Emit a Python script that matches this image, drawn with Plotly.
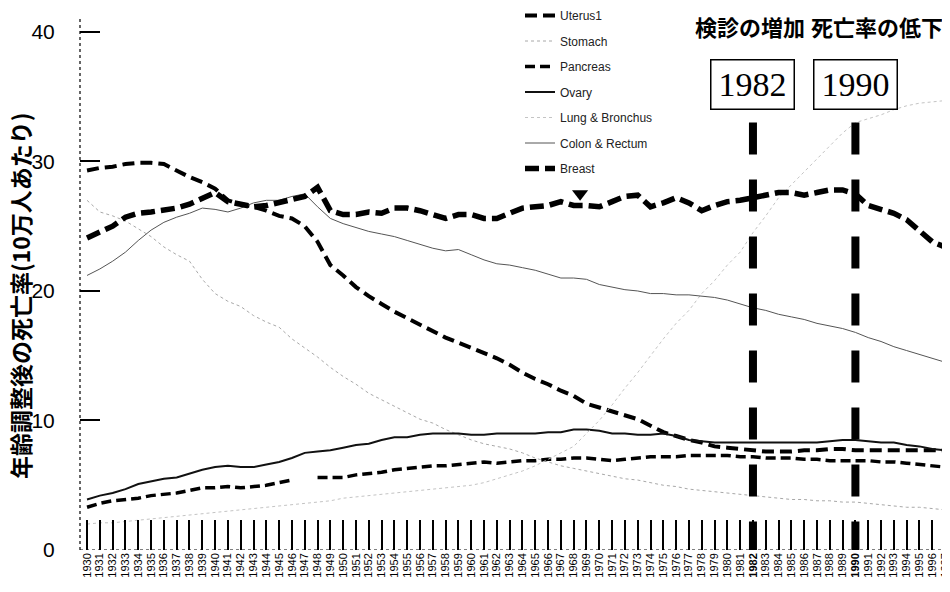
import plotly.graph_objects as go

# ---------------- data ----------------
years = list(range(1930, 1998))
tick_labels = [str(y) for y in years]
highlight_years = [1982, 1990]
header_left = "検診の増加"
header_right = "死亡率の低下"
y_title = "年齢調整後の死亡率(10万人あたり)"
y_ticks = [0, 10, 20, 30, 40]
y_tick_labels = ["0", "10", "20", "30", "40"]

uterus = [29.3, 29.5, 29.6, 29.8, 29.9, 29.9, 29.8, 29.3, 28.8, 28.4,
          27.9, 27.0, 26.7, 26.5, 26.2, 25.8, 25.6, 25.0, 23.8, 22.0,
          21.2, 20.3, 19.6, 19.0, 18.4, 17.9, 17.4, 16.9, 16.4, 16.0,
          15.6, 15.2, 14.8, 14.3, 13.7, 13.2, 12.8, 12.3, 11.9, 11.3,
          11.0, 10.7, 10.4, 10.1, 9.6, 9.1, 8.8, 8.5, 8.3, 8.0,
          7.9, 7.8, 7.7, 7.6, 7.6, 7.6, 7.7, 7.7, 7.8, 7.8,
          7.7, 7.7, 7.7, 7.7, 7.7, 7.7, 7.7, 7.7]
stomach = [27.0, 26.1, 25.8, 25.4, 24.8, 24.2, 23.4, 22.8, 22.3, 20.9,
           19.8, 19.2, 18.8, 18.1, 17.6, 17.2, 16.3, 15.6, 14.9, 14.1,
           13.4, 12.8, 12.1, 11.6, 11.1, 10.6, 10.1, 9.8, 9.3, 8.9,
           8.5, 8.2, 8.0, 7.8, 7.5, 7.1, 6.8, 6.5, 6.3, 6.1,
           5.9, 5.7, 5.5, 5.4, 5.2, 5.0, 4.9, 4.7, 4.6, 4.5,
           4.4, 4.3, 4.2, 4.1, 4.0, 3.9, 3.9, 3.8, 3.8, 3.7,
           3.7, 3.6, 3.5, 3.4, 3.3, 3.3, 3.2, 3.1]
pancreas = [3.3, 3.6, 3.8, 3.9, 4.0, 4.2, 4.3, 4.4, 4.6, 4.8,
            4.8, 4.9, 4.8, 4.9, 5.0, 5.2, 5.4, None, 5.6, 5.6,
            5.6, 5.8, 5.9, 6.0, 6.2, 6.3, 6.4, 6.5, 6.5, 6.6,
            6.7, 6.8, 6.7, 6.8, 6.9, 6.9, 7.0, 7.0, 7.1, 7.1,
            7.0, 6.9, 7.0, 7.1, 7.2, 7.2, 7.2, 7.3, 7.3, 7.3,
            7.3, 7.2, 7.2, 7.1, 7.1, 7.1, 7.0, 7.0, 6.9, 6.9,
            6.9, 6.9, 6.8, 6.8, 6.7, 6.6, 6.5, 6.4]
ovary = [3.9, 4.2, 4.4, 4.7, 5.1, 5.3, 5.5, 5.6, 5.9, 6.2,
         6.4, 6.5, 6.4, 6.4, 6.6, 6.8, 7.1, 7.5, 7.6, 7.7,
         7.9, 8.1, 8.2, 8.5, 8.7, 8.7, 8.9, 9.0, 9.0, 9.0,
         8.9, 8.9, 9.0, 9.0, 9.0, 9.0, 9.1, 9.1, 9.3, 9.3,
         9.2, 9.0, 9.0, 8.9, 8.9, 9.0, 8.8, 8.5, 8.4, 8.3,
         8.3, 8.3, 8.3, 8.3, 8.3, 8.3, 8.3, 8.3, 8.4, 8.5,
         8.5, 8.4, 8.3, 8.3, 8.1, 8.0, 7.8, 7.7]
lung = [2.0, 2.1, 2.1, 2.2, 2.3, 2.4, 2.5, 2.6, 2.7, 2.8,
        2.9, 3.0, 3.1, 3.2, 3.3, 3.4, 3.5, 3.6, 3.7, 3.8,
        4.0, 4.1, 4.2, 4.3, 4.4, 4.5, 4.6, 4.7, 4.8, 4.9,
        5.0, 5.2, 5.5, 5.8, 6.1, 6.5, 7.0, 7.5, 8.0, 9.0,
        10.0, 11.2, 12.5, 13.7, 15.0, 16.3, 17.5, 18.5, 19.8, 20.8,
        22.0, 23.0, 24.5, 25.8, 27.2, 28.2, 29.2, 30.2, 31.2, 32.2,
        33.0, 33.3, 33.6, 34.0, 34.3, 34.5, 34.6, 34.7]
colon = [21.2, 21.7, 22.3, 23.0, 23.9, 24.7, 25.3, 25.7, 26.0, 26.4,
         26.3, 26.1, 26.4, 26.8, 27.0, 27.0, 27.3, 27.5, 26.5, 25.6,
         25.2, 24.9, 24.6, 24.4, 24.2, 23.9, 23.6, 23.3, 23.1, 23.2,
         22.8, 22.4, 22.1, 22.0, 21.8, 21.6, 21.3, 21.0, 21.0, 20.9,
         20.5, 20.3, 20.1, 20.0, 19.8, 19.8, 19.7, 19.7, 19.6, 19.5,
         19.3, 19.0, 18.7, 18.5, 18.2, 18.0, 17.8, 17.5, 17.3, 17.1,
         16.8, 16.4, 16.1, 15.7, 15.4, 15.1, 14.8, 14.5]
breast = [24.1, 24.5, 25.0, 25.7, 26.0, 26.1, 26.2, 26.4, 26.7, 27.1,
          27.6, 26.9, 26.7, 26.5, 26.6, 26.8, 27.0, 27.3, 28.0, 26.2,
          25.9, 25.9, 26.1, 26.0, 26.4, 26.4, 26.2, 25.9, 25.6, 25.9,
          25.9, 25.6, 25.6, 26.0, 26.4, 26.5, 26.6, 26.9, 26.6, 26.6,
          26.5, 26.9, 27.3, 27.4, 26.5, 26.8, 27.2, 26.8, 26.2, 26.6,
          26.9, 27.0, 27.2, 27.4, 27.6, 27.6, 27.4, 27.6, 27.8, 27.8,
          27.5, 26.6, 26.3, 26.0, 25.5, 24.7, 23.8, 23.4]
marker_year = [1968.5]
marker_value = [27.5]

series_names = ["Uterus1", "Stomach", "Pancreas", "Ovary",
                "Lung & Bronchus", "Colon & Rectum", "Breast"]
series_values = [uterus, stomach, pancreas, ovary, lung, colon, breast]

# ---------------- styles ----------------
line_styles = {
    "Uterus1": dict(color="black", width=4, dash="12px,6px"),
    "Stomach": dict(color="#a8a8a8", width=1, dash="dot"),
    "Pancreas": dict(color="black", width=3.5, dash="10px,5px"),
    "Ovary": dict(color="#111111", width=2, dash="solid"),
    "Lung & Bronchus": dict(color="#c4c4c4", width=1, dash="dot"),
    "Colon & Rectum": dict(color="#555555", width=1, dash="solid"),
    "Breast": dict(color="black", width=5.5, dash="14px,6px"),
}

# page has an 8px body margin: plot area placed so the photographed layout matches
PL, PR, PT, PB = 72, 940, 0, 542      # plot area in figure pixels
W, H = 950, 592
X_RANGE = [1929.45, 1997.23]
Y_RANGE = [0, 41.85]


def px_x(ref_px):
    return (ref_px - 8 - PL) / (PR - PL)


def px_y(ref_py):
    return (PB - (ref_py - 8)) / (PB - PT)


fig = go.Figure()
for name, vals in zip(series_names, series_values):
    fig.add_trace(go.Scatter(
        x=years, y=vals, mode="lines", name=name,
        legendgroup=name, connectgaps=False,
        line=line_styles[name],
    ))

fig.add_trace(go.Scatter(
    x=marker_year, y=marker_value, mode="markers", showlegend=False,
    marker=dict(symbol="triangle-down", size=14, color="black"),
))

# empty trace that carries the label axis (yaxis2)
fig.add_trace(go.Scatter(x=[], y=[], yaxis="y2", mode="lines",
                         showlegend=False, hoverinfo="skip"))

tick_text = [f"<b>{t}</b>" if int(t) in highlight_years else t for t in tick_labels]

shapes = [
    dict(type="line", xref="paper", yref="paper", x0=0, x1=0, y0=0, y1=0.98,
         line=dict(color="black", width=1.2, dash="dot")),
    dict(type="line", xref="paper", yref="y", x0=0, x1=1, y0=0, y1=0,
         line=dict(color="black", width=1.2, dash="dot")),
]
for yr in highlight_years:
    shapes.append(dict(type="line", xref="x", yref="y", x0=yr, x1=yr, y0=33, y1=0,
                       line=dict(color="black", width=8, dash="32px,25px"), layer="above"))

annotations = []
for yr in highlight_years:
    annotations.append(dict(
        text=str(yr), xref="x", yref="paper", x=yr, y=px_y(84),
        showarrow=False, font=dict(family="Liberation Serif, Times New Roman, serif", size=34, color="black"),
        bordercolor="black", borderwidth=1.5, borderpad=1, bgcolor="white",
        width=80, height=46, xanchor="center", yanchor="middle",
    ))
annotations.append(dict(
    text=f"<b>{header_left}</b>", xref="paper", yref="paper",
    x=px_x(750), y=px_y(8), showarrow=False,
    font=dict(family="Noto Sans CJK JP", size=22, color="black"),
    xanchor="center", yanchor="top"))
annotations.append(dict(
    text=f"<b>{header_right}</b>", xref="paper", yref="paper",
    x=px_x(877), y=px_y(8), showarrow=False,
    font=dict(family="Noto Sans CJK JP", size=22, color="black"),
    xanchor="center", yanchor="top"))
annotations.append(dict(
    text=f"<b>{y_title}</b>", xref="paper", yref="paper",
    x=px_x(20), y=px_y(296), showarrow=False, textangle=-90,
    font=dict(family="Noto Sans CJK JP", size=23, color="black"),
    xanchor="center", yanchor="middle"))

fig.update_layout(
    width=W, height=H,
    margin=dict(l=PL, r=W - PR, t=PT, b=H - PB, autoexpand=False),
    paper_bgcolor="white", plot_bgcolor="white",
    showlegend=True,
    legend=dict(
        x=px_x(520), xanchor="left", y=px_y(1), yanchor="top",
        font=dict(family="Liberation Sans, Arial, sans-serif", size=12, color="#222222"),
        bgcolor="rgba(0,0,0,0)", tracegroupgap=6.5, itemwidth=30,
    ),
    xaxis=dict(
        range=X_RANGE, tickvals=years, ticktext=tick_text, automargin=False,
        tickangle=-90, ticks="inside", ticklen=30, tickwidth=1.5, tickcolor="black",
        showgrid=False, zeroline=False, showline=False,
        tickfont=dict(family="Liberation Sans Narrow, Liberation Sans, sans-serif", size=11, color="black"),
    ),
    # visible inside tick marks
    yaxis=dict(
        range=Y_RANGE, tickvals=y_ticks, ticks="inside", ticklen=20,
        automargin=False, tickwidth=2, tickcolor="black", showgrid=False, zeroline=False,
        showline=False, showticklabels=False,
    ),
    # labels, placed as if outside ticks of length 20 (tick marks hidden)
    yaxis2=dict(
        overlaying="y", side="left", range=Y_RANGE, tickvals=y_ticks, ticktext=y_tick_labels,
        ticks="outside", ticklen=20, tickcolor="rgba(0,0,0,0)", automargin=False,
        showgrid=False, zeroline=False, showline=False,
        tickfont=dict(family="Liberation Sans Narrow, Liberation Sans, sans-serif", size=21, color="black"),
    ),
    shapes=shapes,
    annotations=annotations,
)

fig.write_html("out.html")
